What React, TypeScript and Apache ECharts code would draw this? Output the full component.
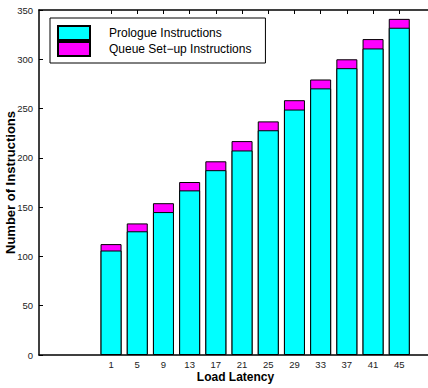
import React, { useEffect, useRef } from "react";
import * as echarts from "echarts";

// Load latency values (x positions of the bars)
const latencies = [1, 5, 9, 13, 17, 21, 25, 29, 33, 37, 41, 45];
// Prologue instruction counts per latency
const prologue = [106, 125.5, 145, 167, 187.5, 207.5, 228, 249, 270.5, 291, 311, 332];
// Queue set-up instruction counts stacked on top
const queueSetup = [6.5, 8, 9, 8.5, 9, 9.5, 9, 9.5, 9, 9, 9.5, 9];
const yTicks = [0, 50, 100, 150, 200, 250, 300, 350];

const FONT = "Liberation Sans, Arial, Helvetica, sans-serif";
const NARROW = "Liberation Sans Narrow, Arial Narrow, Liberation Sans, Arial, sans-serif";

export default function App() {
  const ref = useRef<HTMLDivElement>(null);

  useEffect(() => {
    if (!ref.current) return;
    const chart = echarts.init(ref.current, undefined, { renderer: "svg" });
    const axisLine = { show: true, onZero: false, lineStyle: { color: "#000", width: 1.5 } };
    // Top of each stack: prologue plus queue set-up
    const totals = latencies.map((x, i) => [x, prologue[i] + queueSetup[i]]);
    chart.setOption({
      animation: false,
      backgroundColor: "#fff",
      textStyle: { fontFamily: FONT },
      grid: { left: 39, top: 10, right: -4, bottom: 33, outerBoundsMode: "none", containLabel: false },
      legend: {
        left: 50,
        top: 18,
        orient: "vertical",
        itemWidth: 32,
        itemHeight: 14,
        itemGap: 0,
        padding: [7, 14, 6, 7],
        borderColor: "#000",
        borderWidth: 1,
        backgroundColor: "#fff",
        icon: "rect",
        data: ["Prologue Instructions", "Queue Set\u2212up Instructions"],
        textStyle: {
          fontFamily: FONT,
          fontSize: 12,
          color: "#000",
          lineHeight: 14,
          padding: [0, 0, 0, 14],
        },
      },
      xAxis: [
        {
          type: "value",
          min: -10,
          max: 50,
          position: "bottom",
          name: "Load Latency",
          nameLocation: "middle",
          nameGap: 16,
          nameMoveOverlap: false,
          nameTextStyle: { fontFamily: FONT, fontSize: 12, fontWeight: "bold", color: "#000" },
          axisLine,
          splitLine: { show: false },
          axisTick: { show: true, inside: true, length: 4, customValues: latencies, lineStyle: { color: "#000" } },
          axisLabel: { customValues: latencies, fontSize: 9.5, color: "#222", margin: 4, fontFamily: NARROW },
        },
        {
          type: "value",
          min: -10,
          max: 50,
          position: "top",
          axisLine,
          splitLine: { show: false },
          axisTick: { show: true, inside: true, length: 4, customValues: latencies, lineStyle: { color: "#000" } },
          axisLabel: { show: false },
        },
      ],
      yAxis: {
        type: "value",
        min: 0,
        max: 350,
        interval: 50,
        name: "Number of Instructions",
        nameLocation: "middle",
        nameGap: 22,
        nameMoveOverlap: false,
        nameTextStyle: { fontFamily: FONT, fontSize: 13, fontWeight: "bold", color: "#000" },
        axisLine,
        splitLine: { show: false },
        axisTick: { show: true, inside: true, length: 4, lineStyle: { color: "#000" } },
        axisLabel: {
          fontSize: 9.5,
          color: "#222",
          margin: 6,
          fontFamily: NARROW,
          formatter: (v: number) => (yTicks.includes(v) ? String(v) : ""),
        },
      },
      series: [
        {
          // full stack height, drawn behind; the prologue part covers its lower portion
          name: "Queue Set\u2212up Instructions",
          type: "bar",
          barWidth: 21,
          barGap: "-100%",
          xAxisIndex: 0,
          z: 2,
          data: totals,
          itemStyle: { color: "#FF00FF", borderColor: "#000", borderWidth: 1 },
        },
        {
          name: "Prologue Instructions",
          type: "bar",
          barWidth: 21,
          barGap: "-100%",
          xAxisIndex: 0,
          z: 3,
          data: latencies.map((x, i) => [x, prologue[i]]),
          itemStyle: { color: "#00FFFF", borderColor: "#000", borderWidth: 1 },
        },
      ],
    });
    return () => chart.dispose();
  }, []);

  return <div ref={ref} style={{ width: 428, height: 388, position: "absolute", left: 0, top: 0 }} />;
}
